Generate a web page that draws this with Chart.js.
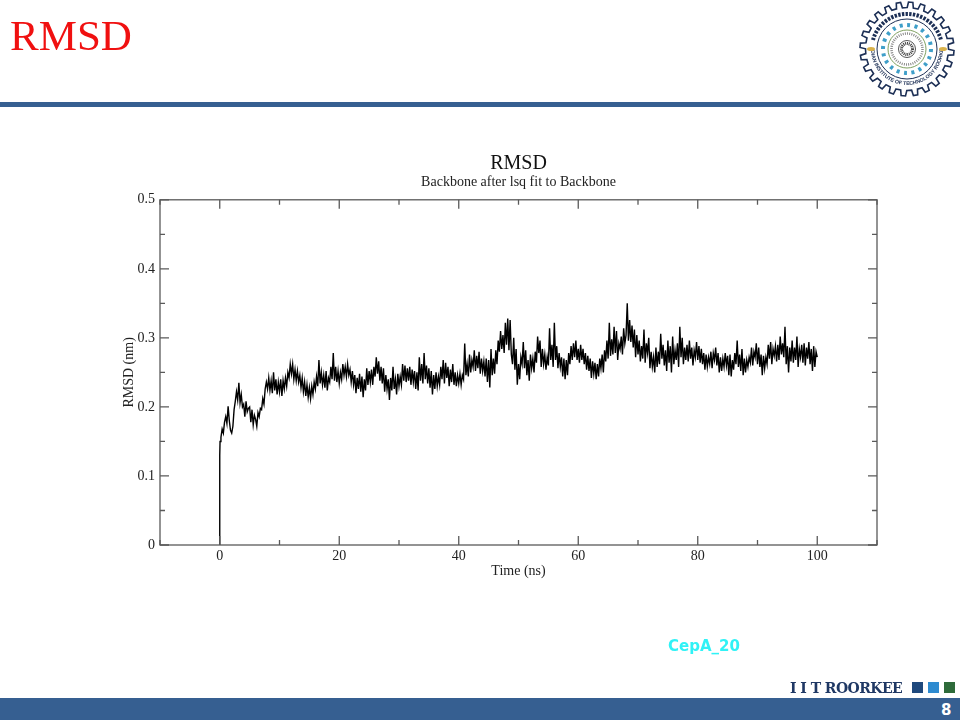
<!DOCTYPE html>
<html>
<head>
<meta charset="utf-8">
<script src="https://cdn.jsdelivr.net/npm/chart.js@4"></script>
<style>
html,body{margin:0;padding:0;background:#fff;width:960px;height:720px;overflow:hidden}
#wrap{position:relative;width:960px;height:720px}
canvas{position:absolute;left:0;top:0}
.t{position:absolute;white-space:nowrap}
.b{position:absolute}
</style>
</head>
<body>
<div id="wrap">
<canvas id="c" width="960" height="720"></canvas>
<div class="t" style="left:10px;top:11px;font:43px/50px 'Liberation Serif';color:#f01010">RMSD</div>
<div class="b" style="left:0;top:102px;width:960px;height:5px;background:#365f91"></div>
<svg id="logo" class="b" style="left:855px;top:0" width="105" height="100" viewBox="855 0 105 100"></svg>
<div class="t" style="left:668px;top:636px;font:bold 15px/20px 'DejaVu Sans';color:#30f2f6">CepA_20</div>
<div class="t" style="left:790px;top:679px;font:bold 14px/18px 'DejaVu Serif';color:#1f3864;letter-spacing:-.55px">I I T ROORKEE</div>
<div class="b" style="left:912px;top:682px;width:11px;height:11px;background:#1f497d"></div>
<div class="b" style="left:928px;top:682px;width:11px;height:11px;background:#2e8bd0"></div>
<div class="b" style="left:944px;top:682px;width:11px;height:11px;background:#2e6b3a"></div>
<div class="b" style="left:0;top:698px;width:960px;height:22px;background:#365f91"></div>
<div class="t" style="left:941px;top:701px;font:bold 15px/18px 'DejaVu Sans';color:#fff">8</div>
</div>
<script>
const chartTitle = "RMSD";
const chartSubtitle = "Backbone after lsq fit to Backbone";
const xAxisTitle = "Time (ns)";
const yAxisTitle = "RMSD (nm)";
const xTickLabels = [0,20,40,60,80,100];
const yTickLabels = [0,0.1,0.2,0.3,0.4,0.5];

const timeValues = [0,0,0.05,.2,.4,.6,.8,
1,1.2,1.4,1.6,1.8,2,2.2,2.4,2.6,2.8,3,3.2,3.4,3.6,3.8,4,4.2,4.4,4.6,4.8,5,5.2,5.4,5.6,5.8,6,6.2,6.4,6.6,6.8,7,7.2,7.4,7.6,7.8,8,8.2,8.4,8.6,8.8,9,9.2,9.4,9.6,9.8,
10,10.2,10.4,10.6,10.8,11,11.2,11.4,11.6,11.8,12,12.2,12.4,12.6,12.8,13,13.2,13.4,13.6,13.8,14,14.2,14.4,14.6,14.8,15,15.2,15.4,15.6,15.8,16,16.2,16.4,16.6,16.8,17,17.2,17.4,17.6,17.8,18,18.2,18.4,18.6,18.8,19,19.2,19.4,19.6,19.8,
20,20.2,20.4,20.6,20.8,21,21.2,21.4,21.6,21.8,22,22.2,22.4,22.6,22.8,23,23.2,23.4,23.6,23.8,24,24.2,24.4,24.6,24.8,25,25.2,25.4,25.6,25.8,26,26.2,26.4,26.6,26.8,27,27.2,27.4,27.6,27.8,28,28.2,28.4,28.6,28.8,29,29.2,29.4,29.6,29.8,
30,30.2,30.4,30.6,30.8,31,31.2,31.4,31.6,31.8,32,32.2,32.4,32.6,32.8,33,33.2,33.4,33.6,33.8,34,34.2,34.4,34.6,34.8,35,35.2,35.4,35.6,35.8,36,36.2,36.4,36.6,36.8,37,37.2,37.4,37.6,37.8,38,38.2,38.4,38.6,38.8,39,39.2,39.4,39.6,39.8,
40,40.2,40.4,40.6,40.8,41,41.2,41.4,41.6,41.8,42,42.2,42.4,42.6,42.8,43,43.2,43.4,43.6,43.8,44,44.2,44.4,44.6,44.8,45,45.2,45.4,45.6,45.8,46,46.2,46.4,46.6,46.8,47,47.2,47.4,47.6,47.8,48,48.2,48.4,48.6,48.8,49,49.2,49.4,49.6,49.8,
50,50.2,50.4,50.6,50.8,51,51.2,51.4,51.6,51.8,52,52.2,52.4,52.6,52.8,53,53.2,53.4,53.6,53.8,54,54.2,54.4,54.6,54.8,55,55.2,55.4,55.6,55.8,56,56.2,56.4,56.6,56.8,57,57.2,57.4,57.6,57.8,58,58.2,58.4,58.6,58.8,59,59.2,59.4,59.6,59.8,
60,60.2,60.4,60.6,60.8,61,61.2,61.4,61.6,61.8,62,62.2,62.4,62.6,62.8,63,63.2,63.4,63.6,63.8,64,64.2,64.4,64.6,64.8,65,65.2,65.4,65.6,65.8,66,66.2,66.4,66.6,66.8,67,67.2,67.4,67.6,67.8,68,68.2,68.4,68.6,68.8,69,69.2,69.4,69.6,69.8,
70,70.2,70.4,70.6,70.8,71,71.2,71.4,71.6,71.8,72,72.2,72.4,72.6,72.8,73,73.2,73.4,73.6,73.8,74,74.2,74.4,74.6,74.8,75,75.2,75.4,75.6,75.8,76,76.2,76.4,76.6,76.8,77,77.2,77.4,77.6,77.8,78,78.2,78.4,78.6,78.8,79,79.2,79.4,79.6,79.8,
80,80.2,80.4,80.6,80.8,81,81.2,81.4,81.6,81.8,82,82.2,82.4,82.6,82.8,83,83.2,83.4,83.6,83.8,84,84.2,84.4,84.6,84.8,85,85.2,85.4,85.6,85.8,86,86.2,86.4,86.6,86.8,87,87.2,87.4,87.6,87.8,88,88.2,88.4,88.6,88.8,89,89.2,89.4,89.6,89.8,
90,90.2,90.4,90.6,90.8,91,91.2,91.4,91.6,91.8,92,92.2,92.4,92.6,92.8,93,93.2,93.4,93.6,93.8,94,94.2,94.4,94.6,94.8,95,95.2,95.4,95.6,95.8,96,96.2,96.4,96.6,96.8,97,97.2,97.4,97.6,97.8,98,98.2,98.4,98.6,98.8,99,99.2,99.4,99.6,99.8,100];

const rmsdValues = [0,.130,.150,.156,.168,.162,.178,
.186,.176,.201,.180,.166,
.162,.172,.196,.208,.222,
.210,.235,.206,.218,.200,
.204,.186,.208,.193,.198,
.200,.178,.196,.174,.188,
.182,.172,.192,.186,.198,
.196,.212,.204,.226,.236,
.226,.242,.224,.238,.220,
.250,.224,.240,.218,.236,
.222,.240,.216,.238,.226,
.242,.230,.250,.242,.262,
.248,.262,.240,.254,.238,
.252,.236,.246,.228,.242,
.222,.236,.216,.232,.214,
.228,.212,.230,.218,.236,
.226,.244,.230,.268,.234,
.250,.232,.246,.228,.252,
.224,.242,.236,.258,.240,
.278,.238,.258,.236,.252,
.234,.250,.240,.262,.246,
.258,.244,.262,.246,.254,
.236,.252,.232,.246,.220,
.242,.226,.248,.222,.244,
.214,.240,.224,.256,.232,
.252,.236,.254,.232,.258,
.244,.272,.248,.266,.238,
.258,.234,.256,.222,.246,
.226,.240,.210,.242,.224,
.258,.226,.240,.218,.248,
.230,.244,.232,.262,.238,
.260,.236,.256,.238,.258,
.232,.254,.236,.252,.226,
.250,.224,.272,.238,.262,
.234,.278,.240,.260,.234,
.256,.228,.252,.218,.246,
.226,.250,.230,.244,.232,
.258,.240,.268,.234,.264,
.242,.258,.230,.254,.236,
.262,.232,.250,.230,.246,
.234,.248,.232,.246,.240,
.292,.246,.262,.244,.276,
.250,.268,.258,.282,.252,
.274,.256,.280,.248,.270,
.252,.266,.244,.270,.236,
.268,.228,.284,.246,.270,
.248,.282,.262,.296,.280,
.310,.284,.304,.278,.322,
.290,.328,.282,.326,.276,
.262,.300,.254,.284,.232,
.262,.240,.272,.262,.294,
.256,.282,.246,.268,.238,
.276,.256,.270,.250,.280,
.264,.302,.278,.296,.258,
.284,.262,.276,.254,.272,
.260,.314,.268,.290,.258,
.322,.268,.288,.256,.278,
.258,.272,.244,.270,.240,
.268,.246,.278,.262,.288,
.268,.292,.272,.296,.268,
.284,.264,.290,.268,.284,
.262,.278,.254,.274,.252,
.270,.242,.266,.248,.264,
.240,.262,.244,.270,.256,
.276,.250,.282,.266,.296,
.270,.322,.274,.298,.276,
.316,.278,.310,.268,.292,
.284,.302,.276,.314,.292,
.304,.350,.296,.326,.294,
.318,.286,.312,.272,.304,
.276,.296,.266,.288,.270,
.312,.264,.292,.278,.300,
.256,.280,.258,.272,.250,
.286,.258,.280,.262,.306,
.270,.290,.260,.282,.252,
.296,.264,.288,.250,.302,
.262,.282,.268,.292,.258,
.316,.272,.300,.262,.286,
.268,.290,.266,.296,.270,
.286,.260,.282,.272,.294,
.268,.288,.264,.284,.262,
.278,.254,.276,.258,.272,
.262,.280,.256,.278,.268,
.286,.260,.278,.250,.272,
.252,.270,.258,.278,.260,
.274,.246,.276,.244,.268,
.254,.278,.262,.296,.258,
.276,.252,.284,.246,.270,
.250,.268,.258,.272,.264,
.286,.260,.280,.272,.292,
.262,.286,.258,.276,.246,
.274,.256,.272,.262,.290,
.270,.294,.262,.284,.274,
.288,.266,.290,.268,.302,
.276,.292,.272,.316,.262,
.288,.250,.286,.266,.296,
.264,.286,.268,.302,.258,
.284,.272,.290,.264,.292,
.260,.286,.270,.294,.262,
.284,.252,.288,.258,.280,
.272];

const FRAME = "#5a5a5a";
const frameTicks = {
  id: "frameTicks",
  afterDatasetsDraw(chart) {
    const {ctx, chartArea: a, scales: {x, y}} = chart;
    ctx.save();
    ctx.strokeStyle = FRAME;
    ctx.lineWidth = 1.3;
    ctx.strokeRect(a.left, a.top, a.right - a.left, a.bottom - a.top);
    ctx.beginPath();
    x.ticks.forEach(t => {
      const p = x.getPixelForValue(t.value);
      const len = xTickLabels.includes(t.value) ? 9 : 5;
      ctx.moveTo(p, a.bottom); ctx.lineTo(p, a.bottom - len);
      ctx.moveTo(p, a.top); ctx.lineTo(p, a.top + len);
    });
    y.ticks.forEach(t => {
      const p = y.getPixelForValue(t.value);
      const major = yTickLabels.some(v => Math.abs(v - t.value) < 1e-6);
      const len = major ? 9 : 5;
      ctx.moveTo(a.left, p); ctx.lineTo(a.left + len, p);
      ctx.moveTo(a.right, p); ctx.lineTo(a.right - len, p);
    });
    ctx.stroke();
    ctx.restore();
  }
};

const serif = "'Liberation Serif'";
new Chart(document.getElementById("c"), {
  type: "line",
  data: {
    datasets: [{
      data: timeValues.map((t, i) => ({x: t, y: rmsdValues[i]})),
      borderColor: "#000",
      borderWidth: 1.4,
      pointRadius: 0,
      tension: 0,
      fill: false
    }]
  },
  plugins: [frameTicks],
  options: {
    responsive: false,
    animation: false,
    devicePixelRatio: 1,
    layout: {padding: {left: 121, right: 83, top: 152, bottom: 140}},
    plugins: {
      legend: {display: false},
      tooltip: {enabled: false},
      title: {display: true, text: chartTitle, fullSize: false, color: "#111",
        font: {family: serif, size: 20, weight: "normal"}, padding: {top: 0, bottom: -2}},
      subtitle: {display: true, text: chartSubtitle, fullSize: false, color: "#222",
        font: {family: serif, size: 14, weight: "normal"}, padding: {top: 0, bottom: 9}}
    },
    scales: {
      x: {
        type: "linear", min: -10, max: 110,
        afterFit(s) { s.height = 35; },
        grid: {display: false, drawTicks: false},
        border: {display: false},
        ticks: {stepSize: 10, autoSkip: false, maxRotation: 0, color: "#222", padding: 3,
          font: {family: serif, size: 14},
          callback: v => xTickLabels.includes(v) ? String(v) : ""},
        title: {display: true, text: xAxisTitle, color: "#222", padding: {top: 0, bottom: 0},
          font: {family: serif, size: 14}}
      },
      y: {
        type: "linear", min: 0, max: 0.5,
        afterFit(s) { s.width = 39; },
        grid: {display: false, drawTicks: false},
        border: {display: false},
        ticks: {stepSize: 0.05, autoSkip: false, color: "#222", padding: 5,
          font: {family: serif, size: 14},
          callback: v => { const m = yTickLabels.find(l => Math.abs(l - v) < 1e-6); return m === undefined ? "" : String(m); }},
        title: {display: true, text: yAxisTitle, color: "#222", padding: {top: 0, bottom: 0},
          font: {family: serif, size: 14}}
      }
    }
  }
});

// Institute seal (decoration)
const NS = "http://www.w3.org/2000/svg";
const svg = document.getElementById("logo");
const cx = 907, cy = 49;
function el(n, a, txt) { const e = document.createElementNS(NS, n); for (const k in a) e.setAttribute(k, a[k]); if (txt) e.textContent = txt; svg.appendChild(e); return e; }
let gear = "";
const teeth = 24;
for (let i = 0; i < teeth; i++) {
  const a0 = i / teeth * 2 * Math.PI, w = 2 * Math.PI / teeth;
  [[a0 + w * .02, 41.5], [a0 + w * .12, 47], [a0 + w * .48, 47], [a0 + w * .58, 41.5], [a0 + w, 41.5]].forEach((p, j) => {
    gear += (i === 0 && j === 0 ? "M" : "L") + (cx + p[1] * Math.cos(p[0])).toFixed(1) + " " + (cy + p[1] * Math.sin(p[0])).toFixed(1);
  });
}
el("path", {d: gear + "Z", fill: "#fff", stroke: "#1c2f55", "stroke-width": 1.6});
el("circle", {cx, cy, r: 30, fill: "#fff", stroke: "#1c2f55", "stroke-width": 1});
el("path", {id: "arcB", d: `M${cx - 36} ${cy} A36 36 0 0 0 ${cx + 36} ${cy}`, fill: "none"});
const tb = el("text", {"font-family": "'Liberation Sans'", "font-size": 5.2, "font-weight": "bold", fill: "#1c2f55"});
const tp = document.createElementNS(NS, "textPath");
tp.setAttribute("href", "#arcB"); tp.setAttribute("startOffset", "50%"); tp.setAttribute("text-anchor", "middle");
tp.textContent = "INDIAN INSTITUTE OF TECHNOLOGY ROORKEE"; tb.appendChild(tp);
el("path", {d: `M${cx - 34} ${cy - 9} A35.2 35.2 0 0 1 ${cx + 34} ${cy - 9}`, fill: "none", stroke: "#1c2f55", "stroke-width": 4, "stroke-dasharray": "2.4 1.3"});
el("circle", {cx, cy, r: 24, fill: "none", stroke: "#3f9fc9", "stroke-width": 4, "stroke-dasharray": "3 4.5"});
el("circle", {cx, cy, r: 19, fill: "none", stroke: "#7fa060", "stroke-width": 1});
el("circle", {cx, cy, r: 15.5, fill: "none", stroke: "#8a8a8a", "stroke-width": 2.5, "stroke-dasharray": "1 1.2"});
el("circle", {cx, cy, r: 8.5, fill: "#fff", stroke: "#555", "stroke-width": 1});
el("circle", {cx, cy, r: 5.5, fill: "none", stroke: "#444", "stroke-width": 3, "stroke-dasharray": "1 .8"});
el("ellipse", {cx: cx - 36, cy, rx: 4, ry: 2, fill: "#d9b24a"});
el("ellipse", {cx: cx + 36, cy, rx: 4, ry: 2, fill: "#d9b24a"});
</script>
</body>
</html>
